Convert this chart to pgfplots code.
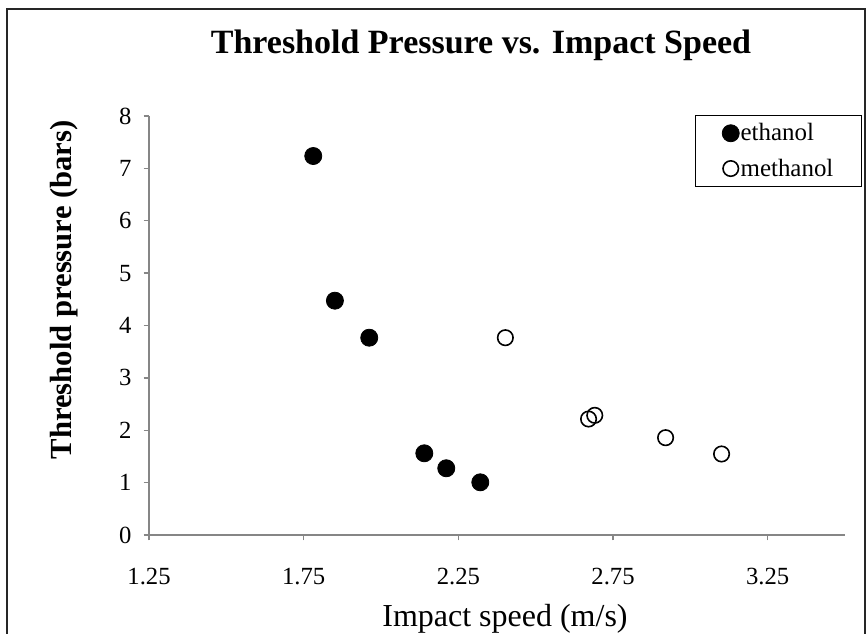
\documentclass[border=0pt]{standalone}
\usepackage{fontspec}
\setmainfont{Liberation Serif}
\usepackage{pgfplots}
\pgfplotsset{compat=1.18}
\definecolor{axisgray}{RGB}{134,134,134}
\begin{document}
\begin{tikzpicture}[x=0.75pt,y=-0.75pt]
\useasboundingbox (0,0) rectangle (867,634);
\draw[line width=1.3pt, black!85] (7,700) -- (7,9) -- (865,9) -- (865,700);
\begin{axis}[
  at={(111.75pt,-401.25pt)}, anchor=south west,
  scale only axis, width=522pt, height=314.25pt,
  xmin=1.25, xmax=3.5, ymin=0, ymax=8,
  axis lines=left,
  axis line style={-, draw=axisgray, line width=1.1pt},
  tick align=outside, major tick length=4pt,
  tick style={draw=axisgray, line width=1.1pt},
  xtick={1.25,1.75,2.25,2.75,3.25},
  xticklabels={1.25,1.75,2.25,2.75,3.25},
  ytick={0,1,2,3,4,5,6,7,8},
  yticklabels={0,1,2,3,4,5,6,7,8},
  /pgf/number format/assume math mode=true,
  ticklabel style={font=\fontsize{18.5}{20}\selectfont},
  xticklabel style={anchor=north, inner sep=0pt, yshift=-21pt},
  yticklabel style={anchor=east, inner sep=0pt, xshift=-9pt},
  title={Threshold Pressure vs. Impact Speed},
  title style={font=\fontsize{25.5}{28}\selectfont\bfseries, anchor=base, at={(axis description cs:0.477,1.1289)}},
  xlabel={Impact speed (m/s)},
  xlabel style={font=\fontsize{24}{26}\selectfont, anchor=base, at={(axis description cs:0.5115,-0.2172)}},
  ylabel={Threshold pressure (bars)},
  ylabel style={font=\fontsize{23}{25}\selectfont\bfseries, anchor=base, rotate=0, at={(axis description cs:-0.112,0.585)}},
  legend style={at={(axis description cs:1.0244,1.0024)}, anchor=north east,
    draw=black, line width=0.9pt, fill=white,
    font=\fontsize{18.7}{20}\selectfont,
    inner xsep=20pt, inner ysep=5pt, row sep=10pt,
    nodes={inner sep=1pt}},
  legend cell align=left,
  legend image code/.code={\draw[#1] plot coordinates {(0pt,0pt)};},
]
\addplot[only marks, mark=*, mark size=6.4pt, draw=black, fill=black, line width=0.6pt]
  coordinates {(1.781,7.236) (1.851,4.474) (1.962,3.767) (2.140,1.560) (2.211,1.274) (2.321,1.006)};
\addlegendentry{ethanol}
\addplot[only marks, mark=o, mark size=5.8pt, draw=black, line width=1.2pt]
  coordinates {(2.402,3.767) (2.671,2.215) (2.691,2.285) (2.920,1.858) (3.101,1.547)};
\addlegendentry{methanol}
\end{axis}
\end{tikzpicture}
\end{document}
